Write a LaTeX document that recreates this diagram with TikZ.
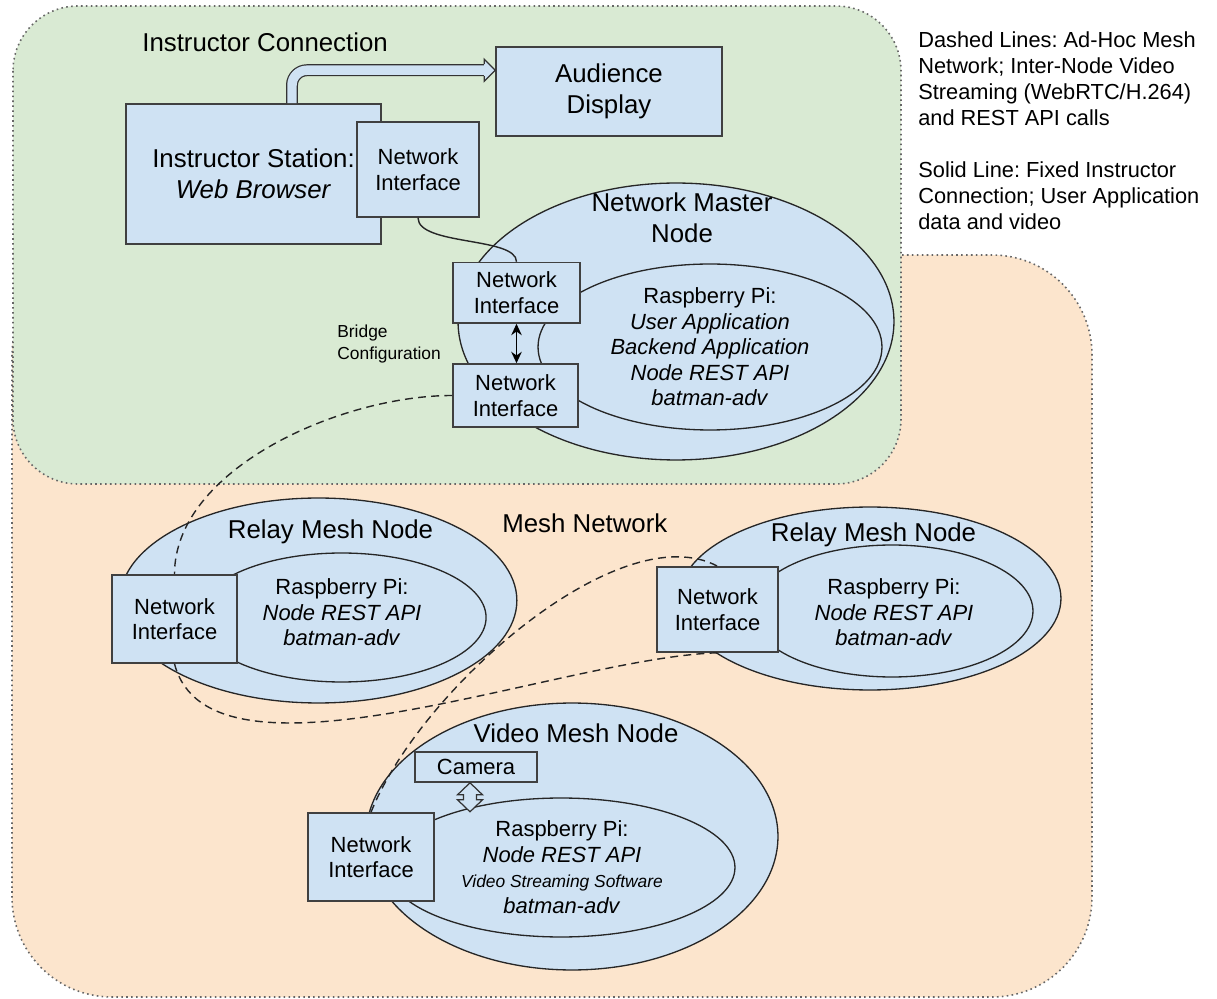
\documentclass[tikz,border=0pt]{standalone}
\usepackage{fontspec}
\setmainfont{Liberation Sans}
\usepackage{tikz}
\usetikzlibrary{arrows.meta,calc,positioning,shapes.geometric}

\definecolor{meshorange}{HTML}{FCE5CD}
\definecolor{instgreen}{HTML}{D9EAD3}
\definecolor{nodeblue}{HTML}{CFE2F3}

\newcommand{\fsbig}{\fontsize{14.7}{17.6}\selectfont}
\newcommand{\fsmid}{\fontsize{12.5}{14.5}\selectfont}
\newcommand{\fskey}{\fontsize{12.4}{14.74}\selectfont}
\newcommand{\fssmall}{\fontsize{9.9}{12.4}\selectfont}
\frenchspacing

\tikzset{
  region/.style={draw=black!60, line width=0.9pt, dash pattern=on 0.9pt off 1.9pt, rounded corners=#1},
  box/.style={draw=black!75, fill=nodeblue, line width=0.9pt, align=center, inner sep=0pt},
  nibox/.style={box, font=\fsmid},
  pill/.style={ellipse, draw=black!85, fill=nodeblue, line width=0.75pt, inner sep=0pt},
  meshlink/.style={draw=black!85, line width=0.8pt, dash pattern=on 4.5pt off 3pt},
  fixedlink/.style={draw=black!85, line width=0.8pt},
  bridge/.style={{Stealth[length=6.5pt,width=6pt]}-{Stealth[length=6.5pt,width=6pt]}, line width=0.9pt},
  hollow/.style={draw=black!80, line width=0.7pt, double=nodeblue, double distance=5.4pt, rounded corners=0.3cm},
  lbl/.style={inner sep=0pt}
}

\begin{document}
\begin{tikzpicture}[x=0.02cm, y=-0.02cm]
  \useasboundingbox[fill=white] (0,0) rectangle (1217,999);
  % Draw the two regions
  \filldraw[region=2cm, fill=meshorange] (12,255) rectangle (1092,997);
  \filldraw[region=1.3cm, fill=instgreen] (13,6) rectangle (901,484);
  \node[lbl, anchor=west, font=\fsbig] (icon) at (142,42) {Instructor Connection};
  \node[lbl, anchor=west, font=\fsbig] (mnet) at (502,523) {Mesh Network};
  % legend
  \node[lbl, anchor=west, align=left, font=\fskey] (keyDash) at (918,79)
    {Dashed Lines: Ad-Hoc Mesh\\ Network; Inter-Node Video\\ Streaming (WebRTC/H.264)\\ and REST API calls};
  \node[lbl, anchor=west, align=left, font=\fskey] (keySolid) at (918,196)
    {Solid Line: Fixed Instructor\\ Connection; User Application\\ data and video};

  % instructor station and audience display
  \node[box, font=\fsbig, minimum width=5.1cm, minimum height=2.8cm] (is) at (253.5,174)
    {Instructor Station:\\ \textit{Web Browser}};
  \node[nibox, minimum width=2.44cm, minimum height=1.9cm] (niI) at (418,169.5) {Network\\ Interface};
  \node[box, font=\fsbig, minimum width=4.52cm, minimum height=1.78cm] (ad) at (609,91.5) {Audience\\ Display};
  \draw[hollow] ($(is.north)+(38.5,0)$) |- ($(ad.north west)+(-11,24)$);
  \filldraw[fill=nodeblue, draw=black!80, line width=0.7pt]
    ($(ad.north west)+(-11,18)$) -- ++(0,-5) -- ($(ad.north west)+(0,24)$) -- ++(-11,11) -- ++(0,-5);

  % network master node
  \node[pill, minimum width=8.72cm, minimum height=5.54cm] (mOut) at (676,321.5) {};
  \node[pill, minimum width=6.88cm, minimum height=3.32cm] (mIn) at (710,347) {};
  \node[font=\fsbig, align=center] (mTitle) at (682,217.5) {Network Master\\ Node};
  \node[font=\fsmid, align=center] (mPi) at (710,347)
    {Raspberry Pi:\\ \textit{User Application}\\ \textit{Backend Application}\\ \textit{Node REST API}\\ \textit{batman-adv}};
  \node[nibox, minimum width=2.54cm, minimum height=1.21cm] (niM1) at (516.5,292.75) {Network\\ Interface};
  \node[nibox, minimum width=2.5cm, minimum height=1.26cm] (niM2) at (515.5,395.5) {Network\\ Interface};
  \draw[bridge] (niM1.south) -- (niM1.south |- niM2.north);
  \node[lbl, anchor=west, align=left, font=\fssmall] (bc) at (337,344) {Bridge\\ Configuration};

  % relay mesh nodes
  \node[pill, minimum width=7.94cm, minimum height=4.1cm] (lOut) at (318.4,600.5) {};
  \node[pill, minimum width=5.78cm, minimum height=2.58cm] (lIn) at (341.6,617.5) {};
  \node[font=\fsbig] (lTitle) at (330.5,532) {Relay Mesh Node};
  \node[font=\fsmid, align=center] (lPi) at (342,612.5)
    {Raspberry Pi:\\ \textit{Node REST API}\\ \textit{batman-adv}};
  \node[nibox, minimum width=2.5cm, minimum height=1.76cm] (niL) at (174.5,619) {Network\\ Interface};
  \node[pill, minimum width=7.64cm, minimum height=3.66cm] (rOut) at (870,598.5) {};
  \node[pill, minimum width=5.64cm, minimum height=2.64cm] (rIn) at (892,611) {};
  \node[font=\fsbig] (rTitle) at (873.5,535) {Relay Mesh Node};
  \node[font=\fsmid, align=center] (rPi) at (894,612.5)
    {Raspberry Pi:\\ \textit{Node REST API}\\ \textit{batman-adv}};
  \node[nibox, minimum width=2.42cm, minimum height=1.7cm] (niR) at (717.5,609.5) {Network\\ Interface};

  % video mesh node
  \node[pill, minimum width=8.24cm, minimum height=5.34cm] (vOut) at (572,836.5) {};
  \node[pill, minimum width=6.96cm, minimum height=2.78cm] (vIn) at (561,867.5) {};
  \node[font=\fsbig] (vTitle) at (576,733) {Video Mesh Node};
  \node[font=\fsmid, align=center] (vPi) at (562,867)
    {Raspberry Pi:\\ \textit{Node REST API}\\ {\fssmall\textit{Video Streaming Software}}\\ \textit{batman-adv}};
  \node[nibox, minimum width=2.44cm, minimum height=0.6cm] (cam) at (476,767) {Camera};
  \filldraw[fill=nodeblue, draw=black!80, line width=0.7pt]
    ($(cam.south)+(-6,0)$) -- ++(12.5,12) -- ++(-6,0) -- ++(0,5) -- ++(6,0) -- ++(-12.5,12)
    -- ++(-12.5,-12) -- ++(6,0) -- ++(0,-5) -- ++(-6,0) -- cycle;
  \node[nibox, minimum width=2.52cm, minimum height=1.76cm] (niV) at (371,857) {Network\\ Interface};

  % links
  \draw[fixedlink] (niI.south) .. controls +(0,28) and +(0,-25) .. (niM1.north);
  \draw[meshlink] (niM2.west) .. controls +(-112,0) and +(0,-105) .. (niL.north);
  \draw[meshlink] (niL.south) .. controls +(35.5,137) and +(-157.5,5) .. (niR.south);
  \draw[meshlink] (niV.north) .. controls +(49,-123) and +(-97.5,-52) .. (niR.north);
\end{tikzpicture}
\end{document}
